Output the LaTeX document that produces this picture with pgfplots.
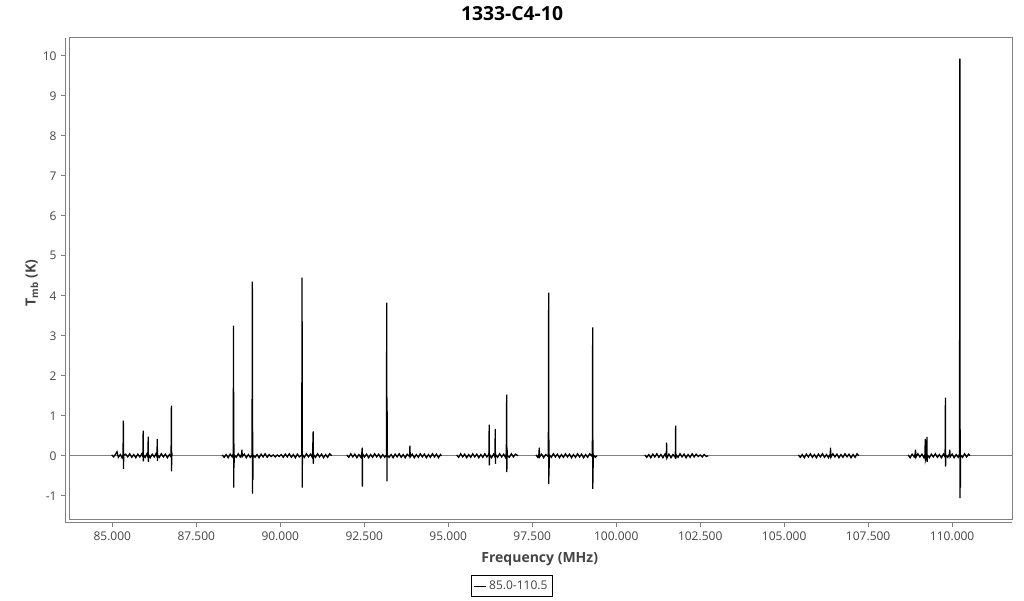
\documentclass[border=0pt]{standalone}
\usepackage{fontspec}
\setmainfont{Open Sans}
\usepackage{pgfplots}
\usepackage{pgfplotstable}
\pgfplotsset{compat=1.18}
\definecolor{framegray}{RGB}{128,128,128}
\definecolor{textgray}{RGB}{68,68,68}

\pgfplotstableread[row sep=\\]{
x y\\
84.98 0.02\\ 85.04 -0.03\\ 85.10 0.04\\ 85.14 0.10\\ 85.18 -0.04\\ 85.24 0.03\\ 85.29 -0.05\\ 85.32 0.02\\ 85.33 0.88\\ 85.335 -0.33\\ 85.34 0.01\\ 85.40 0.04\\ 85.46 -0.03\\ 85.52 0.05\\ 85.58 -0.04\\ 85.64 0.03\\ 85.70 -0.05\\ 85.76 0.04\\ 85.82 -0.03\\ 85.88 0.05\\ 85.91 -0.02\\ 85.92 0.63\\ 85.925 -0.14\\ 85.93 0.02\\ 85.98 -0.04\\ 86.03 0.05\\ 86.06 -0.03\\ 86.07 0.48\\ 86.075 -0.15\\ 86.08 0.03\\ 86.13 -0.05\\ 86.19 0.04\\ 86.25 -0.03\\ 86.30 0.05\\ 86.33 -0.02\\ 86.34 0.42\\ 86.345 -0.13\\ 86.35 0.02\\ 86.40 -0.04\\ 86.46 0.05\\ 86.52 -0.03\\ 86.58 0.04\\ 86.64 -0.05\\ 86.70 0.03\\ 86.75 -0.03\\ 86.76 1.25\\ 86.765 -0.39\\ 86.77 0.10\\ 86.78 0.0\\
nan nan\\
88.27 0.02\\ 88.33 -0.04\\ 88.39 0.03\\ 88.45 -0.05\\ 88.51 0.04\\ 88.57 -0.03\\ 88.60 0.05\\ 88.61 3.25\\ 88.615 -0.80\\ 88.62 0.30\\ 88.625 -0.30\\ 88.63 0.02\\ 88.69 -0.04\\ 88.75 0.05\\ 88.81 -0.03\\ 88.85 0.04\\ 88.86 0.15\\ 88.87 -0.02\\ 88.93 0.04\\ 88.99 -0.05\\ 89.05 0.03\\ 89.11 -0.04\\ 89.16 0.02\\ 89.17 4.35\\ 89.175 -0.95\\ 89.18 0.60\\ 89.185 -0.60\\ 89.19 0.02\\ 89.25 -0.04\\ 89.31 0.03\\ 89.37 -0.05\\ 89.43 0.04\\ 89.49 -0.03\\ 89.55 0.05\\ 89.61 -0.04\\ 89.67 0.03\\ 89.73 -0.02\\ 89.79 0.02\\ 89.85 -0.03\\ 89.91 0.02\\ 89.97 -0.02\\ 90.03 0.03\\ 90.09 -0.04\\ 90.15 0.04\\ 90.21 -0.03\\ 90.27 0.05\\ 90.33 -0.04\\ 90.39 0.03\\ 90.45 -0.05\\ 90.51 0.04\\ 90.57 -0.03\\ 90.64 0.02\\ 90.65 4.45\\ 90.655 -0.80\\ 90.66 0.03\\ 90.72 -0.04\\ 90.78 0.05\\ 90.84 -0.03\\ 90.90 0.04\\ 90.96 -0.05\\ 90.98 0.61\\ 90.985 -0.20\\ 90.99 0.03\\ 91.05 -0.04\\ 91.11 0.05\\ 91.17 -0.03\\ 91.23 0.04\\ 91.29 -0.05\\ 91.35 0.03\\ 91.41 -0.04\\ 91.47 0.05\\ 91.53 0.0\\
nan nan\\
91.98 0.02\\ 92.04 -0.04\\ 92.10 0.05\\ 92.16 -0.03\\ 92.22 0.04\\ 92.28 -0.05\\ 92.34 0.03\\ 92.40 -0.04\\ 92.43 0.08\\ 92.44 0.20\\ 92.445 -0.77\\ 92.45 0.05\\ 92.51 -0.03\\ 92.57 0.04\\ 92.63 -0.05\\ 92.69 0.03\\ 92.75 -0.04\\ 92.81 0.05\\ 92.87 -0.03\\ 92.93 0.04\\ 92.99 -0.05\\ 93.05 0.03\\ 93.11 -0.04\\ 93.16 0.02\\ 93.17 3.83\\ 93.175 -0.64\\ 93.18 1.45\\ 93.185 0.0\\ 93.24 -0.04\\ 93.30 0.03\\ 93.36 -0.05\\ 93.42 0.04\\ 93.48 -0.03\\ 93.54 0.05\\ 93.60 -0.04\\ 93.66 0.03\\ 93.72 -0.05\\ 93.78 0.04\\ 93.85 -0.02\\ 93.86 0.25\\ 93.87 -0.03\\ 93.93 0.04\\ 93.99 -0.05\\ 94.05 0.03\\ 94.11 -0.04\\ 94.17 0.05\\ 94.23 -0.03\\ 94.29 0.04\\ 94.35 -0.05\\ 94.41 0.03\\ 94.47 -0.04\\ 94.53 0.05\\ 94.59 -0.03\\ 94.65 0.04\\ 94.71 -0.05\\ 94.77 0.03\\ 94.80 0.0\\
nan nan\\
95.25 0.02\\ 95.31 -0.04\\ 95.37 0.05\\ 95.43 -0.03\\ 95.49 0.04\\ 95.55 -0.05\\ 95.61 0.03\\ 95.67 -0.04\\ 95.73 0.05\\ 95.79 -0.03\\ 95.85 0.04\\ 95.91 -0.05\\ 95.97 0.03\\ 96.03 -0.04\\ 96.09 0.05\\ 96.15 -0.03\\ 96.21 0.04\\ 96.22 0.78\\ 96.225 -0.24\\ 96.23 0.03\\ 96.29 -0.05\\ 96.35 0.04\\ 96.39 -0.03\\ 96.40 0.67\\ 96.405 -0.20\\ 96.41 0.03\\ 96.47 -0.04\\ 96.53 0.05\\ 96.59 -0.03\\ 96.65 0.04\\ 96.71 -0.05\\ 96.73 0.10\\ 96.74 1.53\\ 96.745 -0.41\\ 96.75 0.20\\ 96.76 0.0\\ 96.82 -0.04\\ 96.88 0.05\\ 96.94 -0.03\\ 97.00 0.04\\ 97.08 0.0\\
nan nan\\
97.61 0.02\\ 97.67 -0.04\\ 97.70 0.05\\ 97.71 0.20\\ 97.72 -0.03\\ 97.78 0.04\\ 97.84 -0.05\\ 97.90 0.03\\ 97.98 -0.02\\ 97.99 4.08\\ 97.995 -0.71\\ 98.00 0.40\\ 98.005 -0.30\\ 98.01 0.02\\ 98.07 -0.04\\ 98.13 0.05\\ 98.19 -0.03\\ 98.25 0.04\\ 98.31 -0.05\\ 98.37 0.03\\ 98.43 -0.04\\ 98.49 0.05\\ 98.55 -0.03\\ 98.61 0.04\\ 98.67 -0.05\\ 98.73 0.03\\ 98.79 -0.04\\ 98.85 0.05\\ 98.91 -0.03\\ 98.97 0.04\\ 99.03 -0.05\\ 99.09 0.03\\ 99.15 -0.04\\ 99.21 0.05\\ 99.29 -0.02\\ 99.30 3.21\\ 99.305 -0.83\\ 99.31 0.40\\ 99.315 -0.30\\ 99.32 0.02\\ 99.38 -0.04\\ 99.43 0.0\\
nan nan\\
100.85 0.02\\ 100.91 -0.04\\ 100.97 0.03\\ 101.03 -0.05\\ 101.09 0.04\\ 101.15 -0.03\\ 101.21 0.05\\ 101.27 -0.04\\ 101.33 0.03\\ 101.39 -0.05\\ 101.45 0.04\\ 101.49 -0.03\\ 101.50 0.33\\ 101.51 -0.06\\ 101.57 0.04\\ 101.63 -0.05\\ 101.69 0.03\\ 101.76 -0.04\\ 101.77 0.75\\ 101.775 -0.08\\ 101.78 0.03\\ 101.84 -0.04\\ 101.90 0.05\\ 101.96 -0.03\\ 102.02 0.04\\ 102.08 -0.05\\ 102.14 0.03\\ 102.20 -0.04\\ 102.26 0.05\\ 102.32 -0.03\\ 102.38 0.04\\ 102.44 -0.02\\ 102.50 0.02\\ 102.56 -0.03\\ 102.62 0.03\\ 102.68 -0.02\\ 102.74 0.0\\
nan nan\\
105.42 0.02\\ 105.48 -0.04\\ 105.54 0.03\\ 105.60 -0.05\\ 105.66 0.04\\ 105.72 -0.03\\ 105.78 0.05\\ 105.84 -0.04\\ 105.90 0.03\\ 105.96 -0.05\\ 106.02 0.04\\ 106.08 -0.03\\ 106.14 0.05\\ 106.20 -0.04\\ 106.26 0.03\\ 106.32 -0.05\\ 106.37 0.04\\ 106.38 0.20\\ 106.39 -0.04\\ 106.45 0.05\\ 106.51 -0.03\\ 106.57 0.04\\ 106.63 -0.05\\ 106.69 0.03\\ 106.75 -0.04\\ 106.81 0.05\\ 106.87 -0.03\\ 106.93 0.04\\ 106.99 -0.05\\ 107.05 0.03\\ 107.11 -0.04\\ 107.17 0.05\\ 107.22 0.0\\
nan nan\\
108.69 0.02\\ 108.75 -0.05\\ 108.81 0.04\\ 108.87 -0.03\\ 108.90 0.05\\ 108.91 0.15\\ 108.92 -0.04\\ 108.98 0.05\\ 109.04 -0.03\\ 109.10 0.04\\ 109.16 -0.05\\ 109.19 0.03\\ 109.20 0.42\\ 109.205 -0.10\\ 109.24 0.03\\ 109.25 0.47\\ 109.255 -0.15\\ 109.26 0.02\\ 109.32 -0.05\\ 109.38 0.04\\ 109.44 -0.03\\ 109.50 0.05\\ 109.56 -0.04\\ 109.62 0.03\\ 109.68 -0.05\\ 109.74 0.04\\ 109.79 -0.03\\ 109.80 1.45\\ 109.805 -0.27\\ 109.81 0.02\\ 109.87 -0.04\\ 109.92 0.05\\ 109.93 0.15\\ 109.94 -0.03\\ 110.00 0.04\\ 110.06 -0.05\\ 110.12 0.03\\ 110.18 -0.04\\ 110.22 0.05\\ 110.23 9.93\\ 110.235 -1.06\\ 110.24 0.65\\ 110.245 -0.80\\ 110.25 0.02\\ 110.31 -0.04\\ 110.37 0.05\\ 110.43 -0.03\\ 110.49 0.04\\ 110.53 0.0\\
}\spec

\begin{document}
\begin{tikzpicture}[x=1pt,y=1pt]
\useasboundingbox (0,-450) rectangle (768,0);
% offset axis lines with ticks and labels
\begin{axis}[
  scale only axis, width=710.25pt, height=363.75pt,
  at={(759.2pt,-28.3pt)}, anchor=north east,
  xmin=83.60, xmax=111.79, ymin=-1.675, ymax=10.45,
  axis lines*=left,
  axis line style={framegray, line width=0.75pt, -},
  xtick={85,87.5,90,92.5,95,97.5,100,102.5,105,107.5,110},
  ytick={-1,0,1,2,3,4,5,6,7,8,9,10},
  tick align=outside, major tick length=3pt,
  tick style={framegray, line width=0.6pt},
  /pgf/number format/assume math mode=true,
  xticklabel={\pgfmathprintnumber[fixed,fixed zerofill,precision=3,1000 sep={}]{\tick}},
  yticklabel={\pgfmathprintnumber[int detect]{\tick}},
  xticklabel style={font=\fontsize{9}{11}\selectfont, text=textgray},
  yticklabel style={font=\fontsize{9}{11}\selectfont, text=textgray},
  xlabel={Frequency (MHz)},
  ylabel={T\textsubscript{mb} (K)},
  xlabel style={font=\bfseries\fontsize{10.5}{12}\selectfont, text=textgray, at={(axis description cs:0.501,-0.0748)}, anchor=center},
  ylabel style={font=\bfseries\fontsize{10.5}{12}\selectfont, text=textgray, at={(axis description cs:-0.0352,0.494)}, anchor=center},
]
\end{axis}
% frame with data
\begin{axis}[
  scale only axis, width=707.25pt, height=361.2pt,
  at={(759.2pt,-28.3pt)}, anchor=north east,
  xmin=83.72, xmax=111.79, ymin=-1.59, ymax=10.45,
  axis line style={framegray, line width=0.75pt},
  ticks=none,
  title={1333-C4-10},
  title style={font=\bfseries\fontsize{14.5}{17}\selectfont, at={(0.4695,1.0325)}, anchor=center},
  legend style={at={(0.4695,-0.1157)}, anchor=north, draw=black, line width=0.6pt,
    font=\fontsize{9}{11}\selectfont, text=textgray, inner sep=2pt},
  legend image code/.code={\draw[#1, line width=0.5pt] (0pt,0pt) -- (9pt,0pt);},
]
\addplot[framegray, line width=0.6pt, forget plot] coordinates {(83.72,0) (111.79,0)};
\addplot[black, line width=0.95pt, unbounded coords=jump] table {\spec};
\legend{85.0-110.5}
\end{axis}
\end{tikzpicture}
\end{document}
